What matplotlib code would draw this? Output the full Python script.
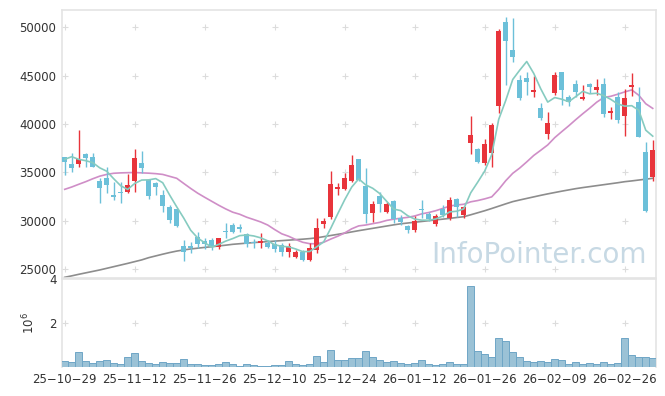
import matplotlib
matplotlib.use('Agg')
import matplotlib.pyplot as plt
import numpy as np
import pandas as pd

# ---- data ----
holidays = ['2025-12-25', '2025-12-31', '2026-01-01', '2026-02-16',
            '2026-02-17', '2026-02-18', '2026-03-02']
dates = pd.bdate_range('2025-10-29', '2026-03-05', freq='C', holidays=holidays)
date_labels = [d.strftime('%y-%m-%d').replace('-', '\u2212') for d in dates]

opens = [36570, 35880, 35910, 36940, 36570, 34120, 34400, 32680, 32980, 33020,
         34150, 35980, 34220, 33950, 32680, 31470, 31230, 27410, 27410, 28310,
         27950, 28030, 27330, 29000, 29580, 29400, 28650, 27750, 27750, 27690,
         27580, 27480, 26790, 26300, 26820, 25960, 26990, 29650, 30370, 33300,
         33260, 34150, 36360, 33600, 30790, 32570, 30950, 32060, 30270, 29500,
         29060, 31250, 30680, 29680, 31230, 30270, 32260, 30610, 38020, 37400,
         36020, 37040, 41870, 50520, 47650, 44560, 44730, 43350, 41630, 38950,
         43240, 45410, 42770, 44140, 42560, 44140, 43550, 44140, 41110, 42770,
         40870, 43860, 42250, 37090, 34500]
highs = [36600, 36980, 39390, 37040, 36980, 34400, 35600, 34050, 34050, 34840,
         37430, 37220, 34330, 34050, 33190, 31640, 31260, 28030, 27850, 28880,
         28200, 28200, 28200, 29750, 29750, 29650, 28720, 28100, 28780, 28030,
         28030, 27750, 27690, 26990, 26990, 27690, 30270, 30270, 35190, 33950,
         34920, 36810, 36400, 35500, 32090, 33020, 32000, 32160, 30610, 29580,
         30510, 32160, 30890, 30680, 31640, 32440, 32330, 31540, 40840, 37500,
         38430, 40080, 49790, 51090, 50930, 45070, 45410, 45000, 42150, 41220,
         45350, 45410, 43000, 44560, 44040, 44280, 44660, 44730, 41730, 43350,
         43590, 45250, 43800, 38180, 38360]
lows = [34740, 35020, 35600, 35600, 35540, 31820, 32910, 32160, 31820, 32850,
        33020, 34980, 32230, 32680, 30950, 29810, 29400, 25890, 26650, 27170,
        27070, 27000, 27070, 28200, 28720, 28880, 27330, 27170, 27170, 27170,
        26820, 26370, 26240, 26140, 25890, 25890, 26650, 29240, 30170, 32680,
        33190, 34050, 34100, 29750, 29920, 30950, 30790, 29750, 29580, 28720,
        28880, 30270, 30020, 29470, 30430, 30090, 30430, 30270, 36880, 35950,
        35770, 35600, 41110, 44040, 46450, 42500, 43000, 42770, 40420, 38430,
        43000, 41970, 41900, 42790, 42450, 43180, 43000, 40760, 40500, 40080,
        38770, 42900, 38700, 30950, 34150]
closes = [36115, 35500, 36390, 36500, 35600, 33430, 33740, 32500, 32880, 33710,
          36500, 35500, 32600, 33530, 31570, 30090, 29470, 26820, 27200, 27580,
          27610, 27270, 28200, 28900, 28880, 29130, 27610, 27700, 27920, 27330,
          27100, 26820, 27410, 26820, 25960, 27170, 29240, 29990, 33780, 33470,
          34460, 35770, 34220, 30680, 31710, 31750, 31710, 30230, 29920, 29060,
          30020, 31150, 30200, 30540, 30610, 32160, 31470, 31400, 38870, 36120,
          37910, 39910, 49650, 48610, 46960, 42730, 44380, 43520, 40660, 40080,
          45070, 43520, 42250, 43280, 42800, 43800, 43800, 41040, 41350, 40420,
          42660, 44040, 38700, 31050, 37320]
volumes = [270000, 230000, 680000, 270000, 180000, 270000, 320000, 180000, 140000, 450000,
           640000, 270000, 180000, 140000, 230000, 180000, 180000, 360000, 140000, 140000,
           90000, 90000, 140000, 230000, 140000, 50000, 140000, 90000, 50000, 50000,
           90000, 90000, 270000, 140000, 90000, 140000, 500000, 230000, 770000, 320000,
           320000, 410000, 410000, 730000, 450000, 320000, 230000, 270000, 180000, 140000,
           180000, 320000, 140000, 90000, 140000, 230000, 140000, 140000, 3680000, 730000,
           590000, 450000, 1320000, 1180000, 680000, 450000, 270000, 230000, 270000, 230000,
           360000, 320000, 140000, 230000, 140000, 180000, 140000, 230000, 140000, 180000,
           1320000, 550000, 450000, 450000, 410000]
# moving-average values before enough history is visible
ma5_head = [36360, 36630, 36360, 36220]
ma20_head = [33260, 33500, 33780, 34050, 34350, 34620, 34800, 34920, 34960, 34980,
             35000, 34960, 34930, 34880, 34800, 34600, 34400, 33870, 33350]
ma_long = [24170, 24320, 24480, 24630, 24780, 24930, 25100, 25270, 25440, 25610,
           25790, 25970, 26200, 26380, 26560, 26730, 26880, 27000, 27100, 27180,
           27260, 27330, 27410, 27490, 27580, 27640, 27700, 27760, 27810, 27860,
           27910, 27960, 28010, 28060, 28110, 28170, 28250, 28370, 28490, 28610,
           28730, 28860, 28990, 29110, 29230, 29350, 29470, 29590, 29700, 29780,
           29860, 29940, 30020, 30100, 30180, 30260, 30350, 30430, 30630, 30840,
           31050, 31280, 31520, 31760, 31990, 32160, 32320, 32480, 32640, 32790,
           32930, 33070, 33200, 33330, 33440, 33540, 33640, 33740, 33840, 33940,
           34050, 34130, 34220, 34310, 34400]

price_ticks = [25000, 30000, 35000, 40000, 45000, 50000]
vol_ticks = [2e6, 4e6]

# ---- derived ----
o = np.array(opens, float); h = np.array(highs, float)
l = np.array(lows, float); c = np.array(closes, float)
v = np.array(volumes, float)
n = len(c)
x = np.arange(n)
cs = pd.Series(c)
ma5 = cs.rolling(5).mean().values
ma5[:4] = ma5_head
ma20 = cs.rolling(20).mean().values
ma20[:19] = ma20_head

RED = '#e8343b'
BLUE = '#6cc0d9'
up = c >= o
colors = np.where(up, RED, BLUE)

plt.rcParams['font.family'] = ['DejaVu Sans']
fig = plt.figure(figsize=(6.65, 3.96), dpi=100)
fig.patch.set_facecolor('white')
ax1 = fig.add_axes([0.0932, 0.2980, 0.8933, 0.6768])
ax2 = fig.add_axes([0.0932, 0.0732, 0.8933, 0.2223])

xlim = (-0.39, 84.47)
spine_col = '#e4e4e4'
for ax in (ax1, ax2):
    ax.set_xlim(*xlim)
    for s in ax.spines.values():
        s.set_color(spine_col)
        s.set_linewidth(1.2)
    ax.tick_params(length=0, labelsize=8.5, labelcolor='#333333', pad=4)

# watermark
ax1.text(0.803, 0.085, 'InfoPointer.com', transform=ax1.transAxes,
         ha='center', va='center', fontsize=20, color='#c7d9e4', zorder=0)

# grid "+" markers
xt = np.arange(0, n, 10)
for yv in price_ticks:
    ax1.plot(xt, [yv] * len(xt), ls='none', marker='+', ms=4, mew=0.8,
             color='#dcdcdc', zorder=1)
for yv in vol_ticks[:1]:
    ax2.plot(xt, [yv] * len(xt), ls='none', marker='+', ms=4, mew=0.8,
             color='#dcdcdc', zorder=1)

# candles
ax1.vlines(x, l, h, colors=colors, linewidth=1.0, zorder=3)
body = np.maximum(np.abs(c - o), 90)
bottom = np.minimum(o, c)
ax1.bar(x, body, bottom=bottom, width=0.68, color=colors, linewidth=0, zorder=4)

# moving averages
ax1.plot(x, ma_long, color='#8d8d8d', lw=1.2, zorder=2)
ax1.plot(x, ma20, color='#cf8ec7', lw=1.2, zorder=2)
ax1.plot(x, ma5, color='#86cbc0', lw=1.2, zorder=5)

ax1.set_ylim(24100, 51790)
ax1.set_yticks(price_ticks)
ax1.set_yticklabels([str(t) for t in price_ticks])
ax1.set_xticks(xt)
ax1.set_xticklabels([])

# volume
ax2.bar(x, v, width=1.0, color='#9bc2d6', edgecolor='#6fa6c6', linewidth=0.7, zorder=3)
ax2.set_ylim(0, 4.0e6)
ax2.set_yticks(vol_ticks)
ax2.set_yticklabels(['2', '4'])
ax2.set_xticks(xt)
ax2.set_xticklabels([date_labels[i] for i in xt])
ax2.spines['bottom'].set_visible(False)
ax2.set_ylabel(r'$10^6$', fontsize=8.5, color='#333333')
ax2.yaxis.set_label_coords(-0.042, 0.5)

fig.savefig('out.png', dpi=100, facecolor='white')
